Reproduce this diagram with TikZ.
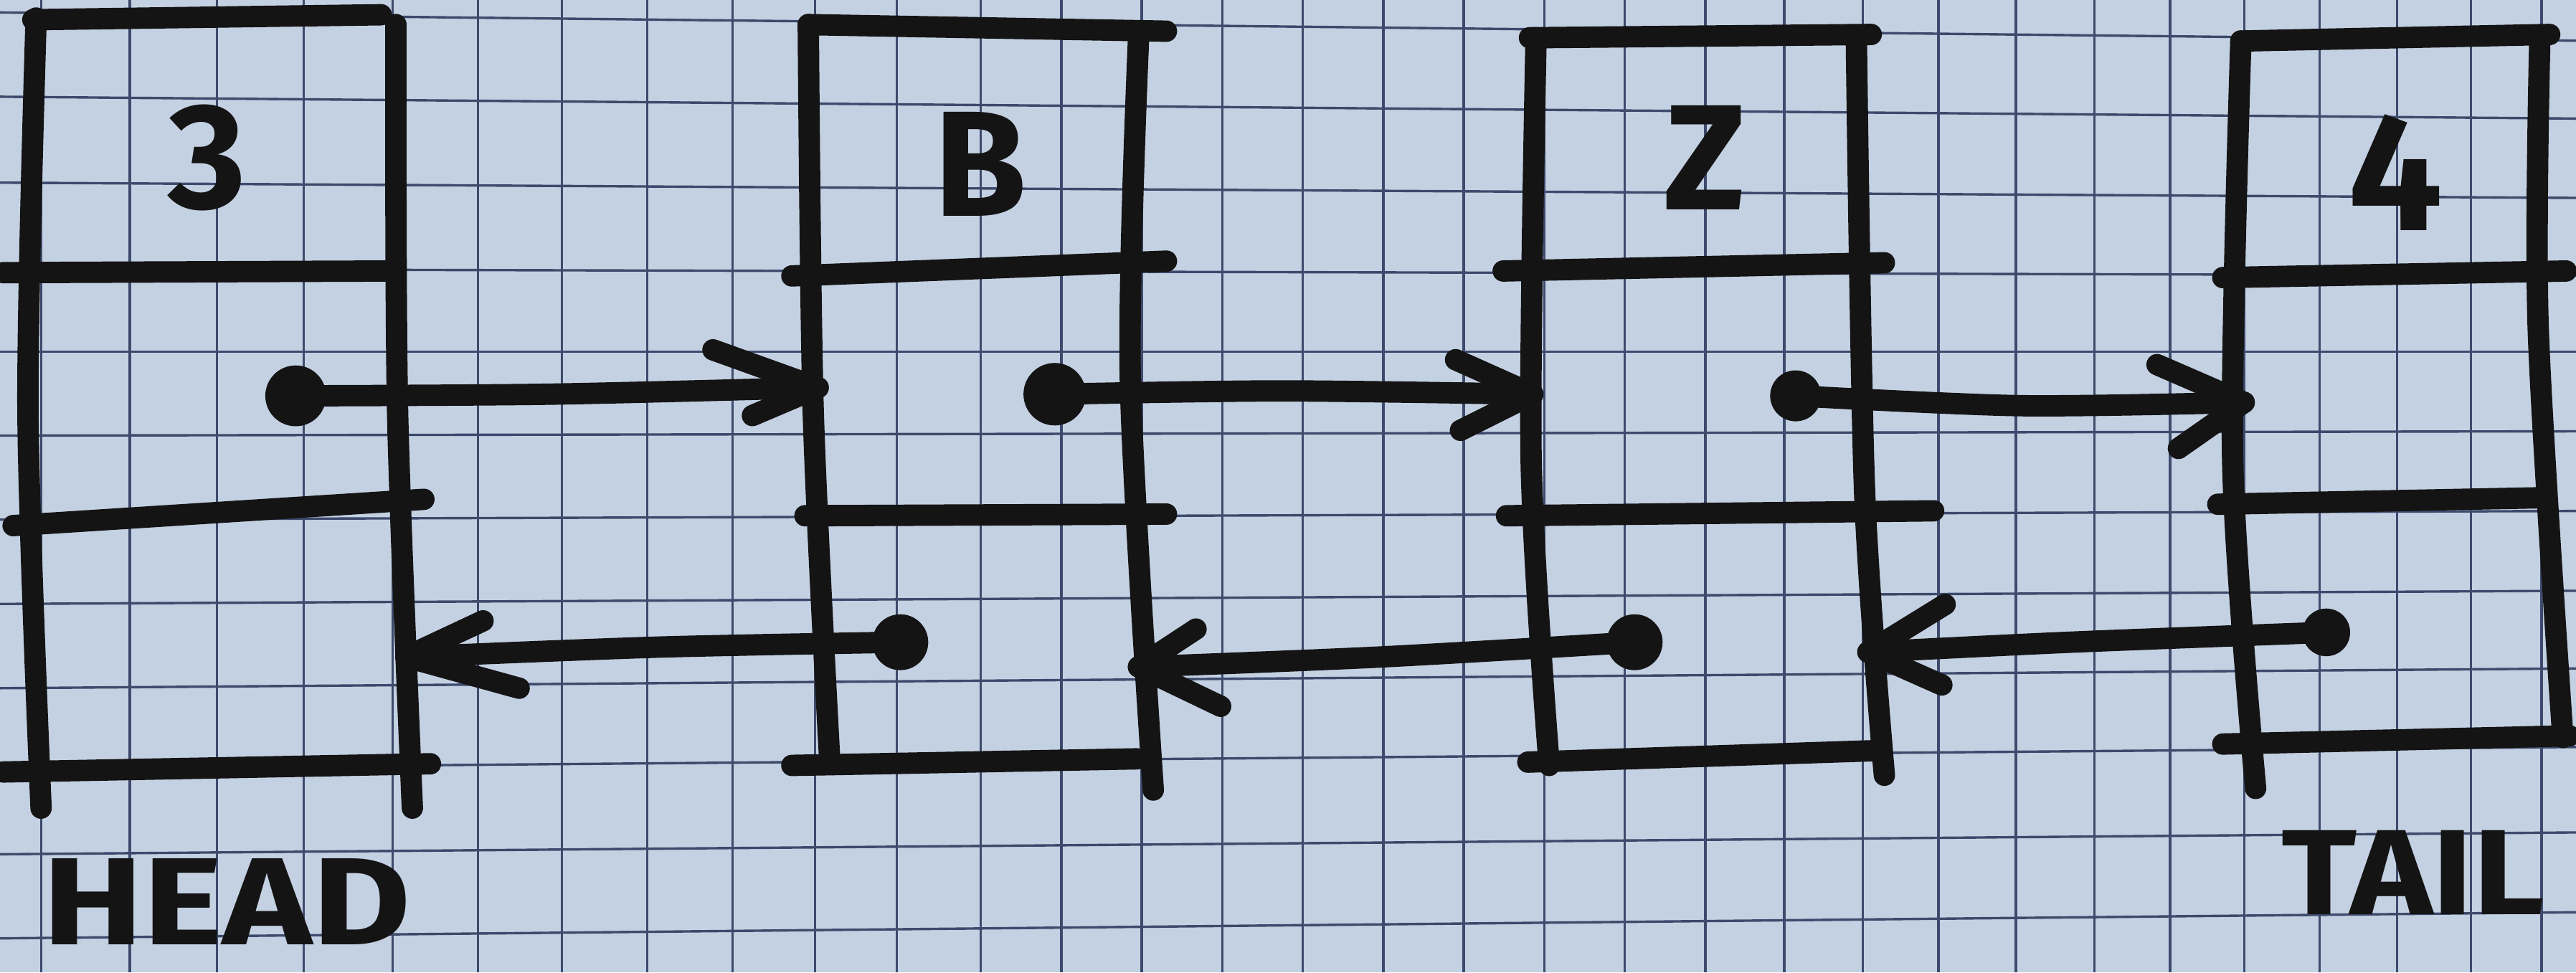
\documentclass[tikz,border=0pt]{standalone}
\usepackage{fontspec}
\setmainfont{Fira Sans}
\usepackage{graphicx}
\definecolor{paper}{HTML}{C4D1E3}
\definecolor{gridc}{HTML}{3E4A6C}
\definecolor{ink}{HTML}{141414}
\tikzset{
  inkline/.style={draw=ink, line width=3.7pt, line cap=round, line join=round},
  ptrdot/.style={circle, fill=ink, inner sep=0pt, minimum size=#1},
  valtxt/.style={text=ink, inner sep=0pt, font=\bfseries\fontsize{26}{26}\selectfont},
  tagtxt/.style={text=ink, inner sep=0pt, font=\bfseries\fontsize{21.5}{21.5}\selectfont},
  gridline/.style={draw=gridc, line width=0.42pt},
}
\begin{document}
\begin{tikzpicture}[x=0.01cm, y=-0.01cm]
\fill[paper] (0,0) rectangle (1568,592);
\useasboundingbox (0,0) rectangle (1568,592);
% grid paper
\foreach \gx in {25,79,132,185,239,291,342,394,446,496,546,597,646,695,744,793,842,891,940,989,1038,1086,1134,1180,1227,1275,1321,1366,1412,1459,1504,1547}
  \draw[gridline] (\gx,0) -- (\gx,592);
\foreach \ya/\yb in {7.6/24.8,58.9/72.2,111.2/120.5,163.7/167.7,214/214,265.2/262.6,316.4/311.1,367.7/359.7,419/407,468.1/454.8,520.1/506.8,571.3/555.4}
  \draw[gridline] (0,\ya) -- (1568,\yb);

% ---------- node 1 : 3 ----------
\draw[inkline] plot[smooth] coordinates {(22,11) (17,250) (25,492)};
\draw[inkline] (20,12) -- (232,9);
\draw[inkline] plot[smooth] coordinates {(241,15) (242,250) (251,492)};
\draw[inkline] (2,166) -- (236,165);
\draw[inkline] (8,320) -- (258,304);
\draw[inkline] (2,470) -- (262,465);
\node[valtxt] (v1) at (126,96) {3};

% ---------- node 2 : B ----------
\draw[inkline] plot[smooth] coordinates {(492,15) (495,250) (505,462)};
\draw[inkline] (492,15) -- (710,19);
\draw[inkline] plot[smooth] coordinates {(693,24) (688,230) (702,481)};
\draw[inkline] (482,168) -- (710,159);
\draw[inkline] (490,314) -- (710,313);
\draw[inkline] (482,466) -- (692,462);
\node[valtxt] (v2) at (597,100) {B};

% ---------- node 3 : Z ----------
\draw[inkline] plot[smooth] coordinates {(935,23) (932,280) (943,466)};
\draw[inkline] (931,23) -- (1139,21);
\draw[inkline] plot[smooth] coordinates {(1130,27) (1135,300) (1147,472)};
\draw[inkline] (915,165) -- (1147,160);
\draw[inkline] (917,314) -- (1177,311);
\draw[inkline] (930,464) -- (1142,457);
\node[valtxt] (v3) at (1038,96) {Z};

% ---------- node 4 : 4 ----------
\draw[inkline] plot[smooth] coordinates {(1364,25) (1359,280) (1373,480)};
\draw[inkline] (1364,25) -- (1552,21);
\draw[inkline] plot[smooth] coordinates {(1546,23) (1545,200) (1560,449)};
\draw[inkline] (1353,169) -- (1562,165);
\draw[inkline] (1350,307) -- (1549,303);
\draw[inkline] (1353,453) -- (1564,448);
\node[valtxt, font=\bfseries\fontsize{29}{29}\selectfont] (v4) at (1458,105) {4};

% ---------- pointer dots ----------
\node[ptrdot=0.37cm] (d1) at (180,241) {};
\node[ptrdot=0.38cm] (d2) at (642,240) {};
\node[ptrdot=0.34cm] (d3) at (548,391) {};
\node[ptrdot=0.31cm] (d4) at (1093,241) {};
\node[ptrdot=0.34cm] (d5) at (995,391) {};
\node[ptrdot=0.29cm] (d6) at (1416,385) {};

% ---------- arrow tips and barbs ----------
\coordinate (t1) at (498,236); \coordinate (u1) at (434,213); \coordinate (l1) at (458,253);
\coordinate (t2) at (933,240); \coordinate (u2) at (886,219); \coordinate (l2) at (889,262);
\coordinate (t3) at (1366,245); \coordinate (u3) at (1313,222); \coordinate (l3) at (1326,273);
\coordinate (t4) at (247,400); \coordinate (u4) at (294,378); \coordinate (l4) at (316,419);
\coordinate (t5) at (693,406); \coordinate (u5) at (728,383); \coordinate (l5) at (743,430);
\coordinate (t6) at (1137,397); \coordinate (u6) at (1184,368); \coordinate (l6) at (1182,417);

% next pointers
\draw[inkline] plot[smooth] coordinates {(d1.center) (334,240) (t1)};
\draw[inkline] (u1) -- (t1) -- (l1);
\draw[inkline] plot[smooth] coordinates {(d2.center) (780,238) (t2)};
\draw[inkline] (u2) -- (t2) -- (l2);
\draw[inkline] plot[smooth] coordinates {(d4.center) (1230,247) (t3)};
\draw[inkline] (u3) -- (t3) -- (l3);
% prev pointers
\draw[inkline] plot[smooth] coordinates {(d3.center) (400,394) (t4)};
\draw[inkline] (u4) -- (t4) -- (l4);
\draw[inkline] plot[smooth] coordinates {(d5.center) (840,400) (t5)};
\draw[inkline] (u5) -- (t5) -- (l5);
\draw[inkline] plot[smooth] coordinates {(d6.center) (1260,391) (t6)};
\draw[inkline] (u6) -- (t6) -- (l6);

% ---------- labels ----------
\node[tagtxt] (head) at (138,549) {\scalebox{1.22}[1]{HEAD}};
\node[tagtxt, font=\bfseries\fontsize{21}{21}\selectfont] (tail) at (1469,531) {\scalebox{1.15}[1]{TAIL}};
\end{tikzpicture}
\end{document}
